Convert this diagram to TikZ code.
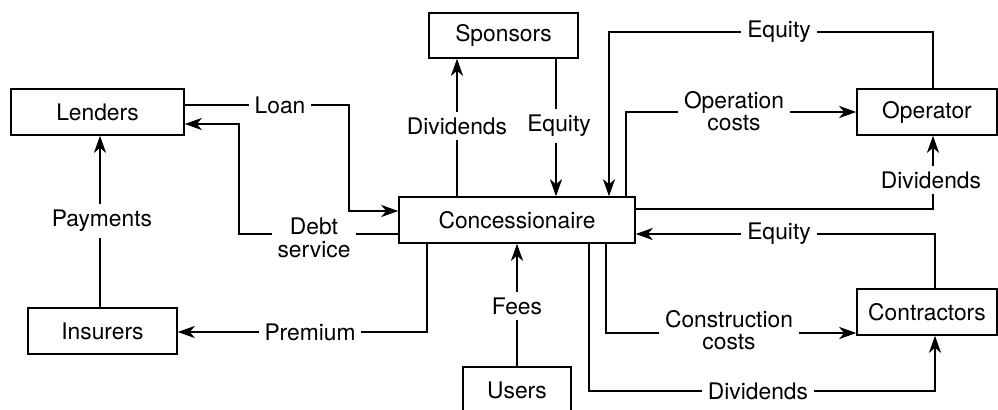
\documentclass[tikz,border=0pt]{standalone}
\usepackage{fontspec}
\setmainfont{TeX Gyre Heros}
\usetikzlibrary{arrows.meta}
\begin{document}
\begin{tikzpicture}[x=0.5pt,y=-0.5pt,
  every node/.style={font=\fontsize{11.4}{11.2}\selectfont},
  box/.style={draw,line width=0.75pt,inner sep=0pt,minimum height=23pt},
  conn/.style={line width=1.4pt},
  arr/.style={conn,-{Stealth[length=8.5pt,width=6pt,inset=2.5pt]}},
  lbl/.style={fill=white,inner sep=3pt,align=center}]
\useasboundingbox (0,0) rectangle (998,409);
% boxes
\node[box,minimum width=86.5pt] (lenders) at (97.5,112) {Lenders};
\node[box,minimum width=74.5pt,minimum height=22.5pt] (sponsors) at (503.5,35.5) {Sponsors};
\node[box,minimum width=70pt] (operator) at (927,112) {Operator};
\node[box,minimum width=118pt] (conc) at (517,220) {Concessionaire};
\node[box,minimum width=74.5pt] (insurers) at (102.5,331) {Insurers};
\node[box,minimum width=54pt] (users) at (517,390) {Users};
\node[box,minimum width=70pt] (contractors) at (927,312) {Contractors};
% connectors
\draw[arr] (lenders.east |- 0,105) -- (349,105) -- (349,211) -- (conc.west |- 0,211);
\draw[arr] (conc.west |- 0,234) -- (239,234) -- (239,124) -- (lenders.east |- 0,124);
\draw[arr] (insurers.north -| 100,0) -- (lenders.south -| 100,0);
\draw[arr] (conc.south -| 427,0) -- (427,332) -- (insurers.east |- 0,332);
\draw[arr] (conc.north -| 457,0) -- (sponsors.south -| 457,0);
\draw[arr] (sponsors.south -| 556,0) -- (conc.north -| 556,0);
\draw[arr] (operator.north -| 933,0) -- (933,32) -- (609,32) -- (conc.north -| 609,0);
\draw[arr] (conc.north -| 626,0) -- (626,112) -- (operator.west);
\draw[arr] (conc.east |- 0,209) -- (933,209) -- (operator.south -| 933,0);
\draw[arr] (contractors.north -| 935,0) -- (935,234) -- (conc.east |- 0,234);
\draw[arr] (conc.south -| 606,0) -- (606,333) -- (contractors.west |- 0,333);
\draw[arr] (conc.south -| 589,0) -- (589,391) -- (935,391) -- (contractors.south -| 935,0);
\draw[arr] (users.north) -- (conc.south);
% labels
\node[lbl] (lloan) at (280,105) {Loan};
\node[lbl] (ldebt) at (314,238) {Debt\\service};
\node[lbl] (lpay) at (102,221) {Payments};
\node[lbl] (lprem) at (310,332) {Premium};
\node[lbl] (ldivs) at (457,126) {Dividends};
\node[lbl] (leqs) at (559,126) {Equity};
\node[lbl] (leqo) at (779,32) {Equity};
\node[lbl] (lopc) at (734,111) {Operation\\costs};
\node[lbl] (ldivo) at (931,180) {Dividends};
\node[lbl] (leqc) at (779,234) {Equity};
\node[lbl] (lconc) at (729,330) {Construction\\costs};
\node[lbl] (ldivc) at (758,391) {Dividends};
\node[lbl] (lfees) at (517,306) {Fees};
\end{tikzpicture}
\end{document}
